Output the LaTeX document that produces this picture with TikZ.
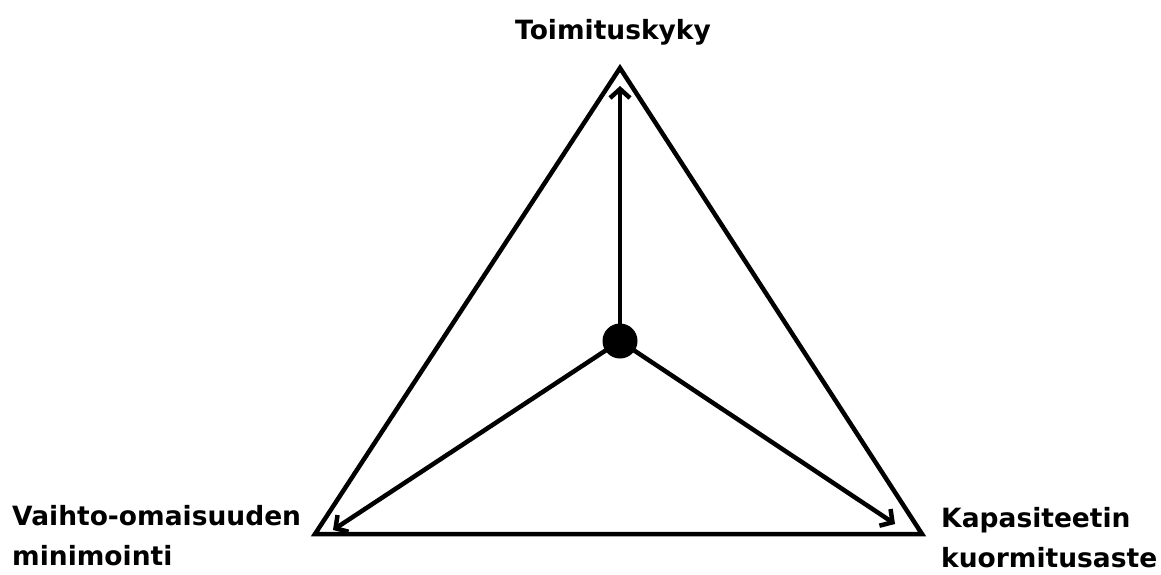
\documentclass[tikz,border=0pt]{standalone}
\usepackage{fontspec}
\setmainfont{DejaVu Sans}
\usetikzlibrary{arrows.meta, positioning}
\tikzset{
    reuna/.style={line width=4.5pt, line join=miter},
    nuoli/.style={line width=4.5pt, -{Straight Barb[length=9pt, width=20pt, line width=4.5pt]}},
    otsikko/.style={inner sep=0pt, align=left, font=\bfseries\fontsize{26.5}{40}\selectfont}
}

\begin{document}
\begin{tikzpicture}[x=1pt, y=-1pt]
        \useasboundingbox (0,0) rectangle (1161,574);
        % kulmat
        \coordinate (kt) at (620,68);
        \coordinate (kv) at (315,534);
        \coordinate (ko) at (922,534);
        % nuolten kärjet
        \coordinate (nt) at (620,86);
        \coordinate (nv) at (333,530);
        \coordinate (no) at (895,524);
        \draw[reuna] (kt) -- (kv) -- (ko) -- cycle;
        \node[circle, fill=black, inner sep=0pt, minimum size=35pt] (keskus) at (620,341) {};
        \foreach \k in {nt, nv, no}
            \draw[nuoli] (keskus.center) -- (\k);
        \node[otsikko, anchor=base] (toimitus) at (613,39) {Toimituskyky};
        \node[otsikko, anchor=base west] (vaihto) at (12,565) {Vaihto-omaisuuden\\minimointi};
        \node[otsikko, anchor=base west] (kapasiteetti) at (941,567) {Kapasiteetin\\kuormitusaste};
    \end{tikzpicture}
\end{document}
